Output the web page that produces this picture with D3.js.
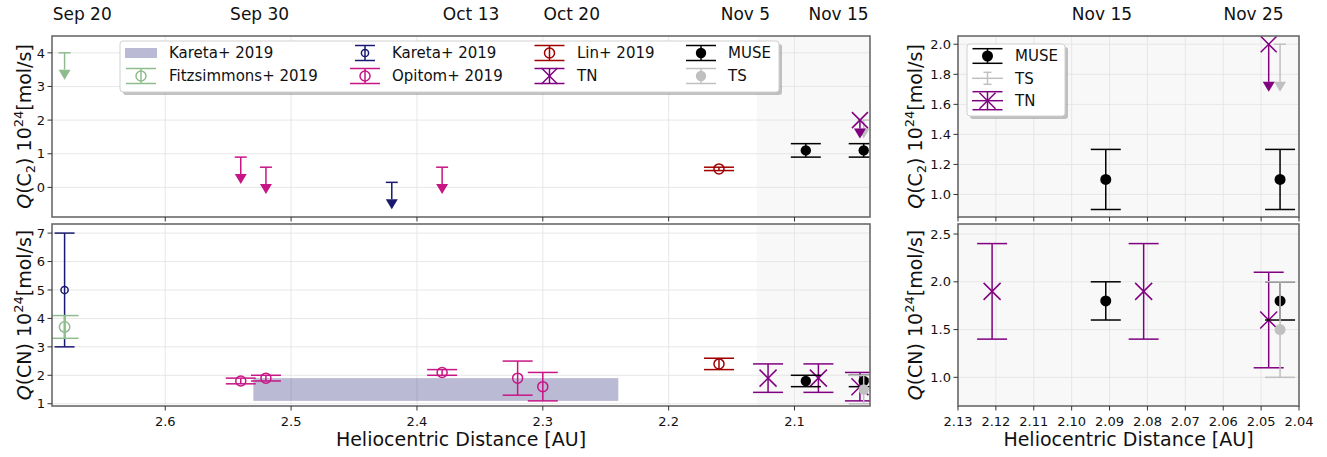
<!DOCTYPE html>
<html>
<head>
<meta charset="utf-8">
<script src="https://cdn.jsdelivr.net/npm/d3@7"></script>
<style>
  body { margin: 0; background: #fff; }
  text { font-family: "DejaVu Sans", sans-serif; fill: #111; }
</style>
</head>
<body>
<svg id="chart" width="1327" height="457"></svg>
<script>
"use strict";

// upper limits: [au, limit, arrow length]
const fitzC2 = [[2.68, 4.0, 0.5]];
const karetaC2 = [[2.42, 0.15, 0.5]];
const opitomC2 = [[2.54, 0.9, 0.5], [2.52, 0.6, 0.5], [2.38, 0.6, 0.5]];
const tnC2 = [[2.048, 2.0, 0.25]];
const tsC2 = [[2.045, 2.0, 0.25]];
// measurements: [au, value, error]
const linC2 = [[2.16, 0.55, 0.05]];
const museC2 = [[2.091, 1.1, 0.2], [2.045, 1.1, 0.2]];

// Kareta+ 2019 CN range: [au from, au to, q low, q high]
const karetaBand = [2.53, 2.24, 1.1, 1.9];
const fitzCN = [[2.68, 3.7, 0.4]];
const karetaCN = [[2.68, 5.0, 2.0]];
const opitomCN = [[2.54, 1.8, 0.1], [2.52, 1.9, 0.1], [2.38, 2.1, 0.1], [2.32, 1.9, 0.6], [2.30, 1.6, 0.5]];
const linCN = [[2.16, 2.4, 0.2]];
const tnCN = [[2.121, 1.9, 0.5], [2.081, 1.9, 0.5], [2.048, 1.6, 0.5]];
const museCN = [[2.091, 1.8, 0.2], [2.045, 1.8, 0.2]];
const tsCN = [[2.045, 1.5, 0.5]];

// date labels on top, placed at heliocentric distance
const datesLeft = [["Sep 20", 2.666], ["Sep 30", 2.525], ["Oct 13", 2.357], ["Oct 20", 2.277], ["Nov 5", 2.139], ["Nov 15", 2.065]];
const datesRight = [["Nov 15", 2.092], ["Nov 25", 2.052]];

const ticksLeftX = [2.6, 2.5, 2.4, 2.3, 2.2, 2.1];
const ticksRightX = [2.13, 2.12, 2.11, 2.10, 2.09, 2.08, 2.07, 2.06, 2.05, 2.04];
const ticksC2 = [0, 1, 2, 3, 4];
const ticksCN = [1, 2, 3, 4, 5, 6, 7];
const ticksC2zoom = [1.0, 1.2, 1.4, 1.6, 1.8, 2.0];
const ticksCNzoom = [1.0, 1.5, 2.0, 2.5];

const colors = {
  fitz: "#8fbc8f", kareta: "#191970", opitom: "#c71585", lin: "#a00000",
  tn: "#800080", muse: "#000000", ts: "#c0c0c0"
};

const svg = d3.select("#chart");
const rows = {top: [217, 36], bot: [406, 224]};
const xLeft = d3.scaleLinear().domain([2.69, 2.04]).range([52, 870]);
const xRight = d3.scaleLinear().domain([2.13, 2.04]).range([958, 1299]);

function makePanel(id, x, yDomain, row, xticks, yticks, xfmt, yfmt, shadeFrom, showX){
  const y = d3.scaleLinear().domain(yDomain).range(row);
  const [x0, x1] = x.range(), [y1, y0] = row;
  const g = svg.append("g").attr("id", id);

  g.append("rect").attr("x", x0).attr("y", y0).attr("width", x1 - x0).attr("height", y1 - y0).attr("fill", "#fff");
  g.append("rect").attr("x", x(shadeFrom)).attr("y", y0).attr("width", x1 - x(shadeFrom)).attr("height", y1 - y0)
    .attr("fill", "#f8f8f8");

  g.append("g").selectAll("line").data(xticks).join("line")
    .attr("x1", d => x(d)).attr("x2", d => x(d)).attr("y1", y0).attr("y2", y1)
    .attr("stroke", "#e4e4e4").attr("stroke-width", 0.9);
  g.append("g").selectAll("line").data(yticks).join("line")
    .attr("x1", x0).attr("x2", x1).attr("y1", d => y(d)).attr("y2", d => y(d))
    .attr("stroke", "#e4e4e4").attr("stroke-width", 0.9);

  svg.append("clipPath").attr("id", "clip-" + id).append("rect")
    .attr("x", x0).attr("y", y0).attr("width", x1 - x0).attr("height", y1 - y0);
  const marks = g.append("g").attr("clip-path", `url(#clip-${id})`);

  // frame + ticks drawn after marks
  const frame = svg.append("g").attr("class", "frame");
  frame.append("rect").attr("x", x0).attr("y", y0).attr("width", x1 - x0).attr("height", y1 - y0)
    .attr("fill", "none").attr("stroke", "#6a6a6a").attr("stroke-width", 1.6);
  frame.append("g").selectAll("line").data(xticks).join("line")
    .attr("x1", d => x(d)).attr("x2", d => x(d)).attr("y1", y1).attr("y2", y1 + 4.5)
    .attr("stroke", "#333").attr("stroke-width", 1);
  frame.append("g").selectAll("line").data(yticks).join("line")
    .attr("x1", x0 - 4.5).attr("x2", x0).attr("y1", d => y(d)).attr("y2", d => y(d))
    .attr("stroke", "#333").attr("stroke-width", 1);
  frame.append("g").selectAll("text").data(yticks).join("text")
    .attr("x", x0 - 7).attr("y", d => y(d)).attr("dy", "0.36em").attr("text-anchor", "end")
    .attr("font-size", 13).text(yfmt);
  if (showX){
    frame.append("g").selectAll("text").data(xticks).join("text")
      .attr("x", d => x(d)).attr("y", y1 + 20).attr("text-anchor", "middle")
      .attr("font-size", 13).text(xfmt);
  }
  return {x, y, marks, frame};
}

function errorBars(p, data, color, cap, marker, size){
  const g = p.marks.append("g").attr("stroke", color).attr("stroke-width", 1.5);
  g.selectAll("line.v").data(data).join("line").attr("class", "v")
    .attr("x1", d => p.x(d[0])).attr("x2", d => p.x(d[0]))
    .attr("y1", d => p.y(d[1] - d[2])).attr("y2", d => p.y(d[1] + d[2]));
  g.selectAll("line.lo").data(data).join("line").attr("class", "lo")
    .attr("x1", d => p.x(d[0]) - cap).attr("x2", d => p.x(d[0]) + cap)
    .attr("y1", d => p.y(d[1] - d[2])).attr("y2", d => p.y(d[1] - d[2]));
  g.selectAll("line.hi").data(data).join("line").attr("class", "hi")
    .attr("x1", d => p.x(d[0]) - cap).attr("x2", d => p.x(d[0]) + cap)
    .attr("y1", d => p.y(d[1] + d[2])).attr("y2", d => p.y(d[1] + d[2]));
  data.forEach(d => drawMarker(g, marker, p.x(d[0]), p.y(d[1]), color, size));
}

function upperLimits(p, data, color, marker, size){
  const g = p.marks.append("g").attr("stroke", color).attr("stroke-width", 1.5);
  g.selectAll("line.v").data(data).join("line").attr("class", "v")
    .attr("x1", d => p.x(d[0])).attr("x2", d => p.x(d[0]))
    .attr("y1", d => p.y(d[1])).attr("y2", d => p.y(d[1] - d[2]));
  g.selectAll("path").data(data).join("path")
    .attr("d", d => {
      const cx = p.x(d[0]), b = p.y(d[1] - d[2]);
      return `M${cx - 6},${b}L${cx + 6},${b}L${cx},${b + 10}Z`;
    })
    .attr("fill", color).attr("stroke", "none");
  data.forEach(d => {
    if (marker === "cap"){
      g.append("line").attr("x1", p.x(d[0]) - 6).attr("x2", p.x(d[0]) + 6)
        .attr("y1", p.y(d[1])).attr("y2", p.y(d[1]));
    } else drawMarker(g, marker, p.x(d[0]), p.y(d[1]), color, size);
  });
}

function drawMarker(g, type, cx, cy, color, size){
  if (type === "open"){
    g.append("circle").attr("cx", cx).attr("cy", cy).attr("r", size)
      .attr("fill", "none").attr("stroke", color).attr("stroke-width", 1.5);
  } else if (type === "dot"){
    g.append("circle").attr("cx", cx).attr("cy", cy).attr("r", size)
      .attr("fill", color).attr("stroke", "none");
  } else if (type === "x"){
    g.append("path").attr("d", `M${cx - size},${cy - size}L${cx + size},${cy + size}M${cx - size},${cy + size}L${cx + size},${cy - size}`)
      .attr("stroke", color).attr("stroke-width", 1.5).attr("fill", "none");
  }
}

function yLabel(x, yc, species){
  const t = svg.append("text").attr("transform", `translate(${x},${yc}) rotate(-90)`)
    .attr("text-anchor", "middle").attr("font-size", 19);
  t.append("tspan").attr("font-style", "italic").text("Q");
  t.append("tspan").text("(" + species[0]);
  if (species[1]){
    t.append("tspan").attr("font-size", 13).attr("dy", 4).text(species[1]);
    t.append("tspan").attr("dy", -4).text(")\u00a010");
  } else {
    t.append("tspan").text(")\u00a010");
  }
  t.append("tspan").attr("font-size", 13).attr("dy", -8).text("24");
  t.append("tspan").attr("dy", 8).text("[mol/s]");
}

const f1 = d3.format(".1f"), f2 = d3.format(".2f"), fd = d3.format("d");

// ---- panels ----
const pC2 = makePanel("c2", xLeft, [-0.88, 4.5], rows.top, ticksLeftX, ticksC2, f1, fd, 2.13, false);
const pCN = makePanel("cn", xLeft, [0.92, 7.32], rows.bot, ticksLeftX, ticksCN, f1, fd, 2.13, true);
const pC2z = makePanel("c2z", xRight, [0.85, 2.055], rows.top, ticksRightX, ticksC2zoom, f2, f1, 2.13, false);
const pCNz = makePanel("cnz", xRight, [0.70, 2.605], rows.bot, ticksRightX, ticksCNzoom, f2, f1, 2.13, true);

// C2, left
upperLimits(pC2, fitzC2, colors.fitz, "cap");
upperLimits(pC2, opitomC2, colors.opitom, "cap");
upperLimits(pC2, karetaC2, colors.kareta, "cap");
errorBars(pC2, linC2, colors.lin, 15, "open", 5);
upperLimits(pC2, tsC2, colors.ts, "cap");
upperLimits(pC2, tnC2, colors.tn, "x", 8);
errorBars(pC2, museC2, colors.muse, 15, "dot", 5.2);

// CN, left
pCN.marks.append("rect")
  .attr("x", xLeft(karetaBand[0])).attr("width", xLeft(karetaBand[1]) - xLeft(karetaBand[0]))
  .attr("y", pCN.y(karetaBand[3])).attr("height", pCN.y(karetaBand[2]) - pCN.y(karetaBand[3]))
  .attr("fill", colors.kareta).attr("fill-opacity", 0.3);
errorBars(pCN, karetaCN, colors.kareta, 10, "open", 3.6);
errorBars(pCN, fitzCN, colors.fitz, 14, "open", 5.2);
errorBars(pCN, opitomCN, colors.opitom, 15, "open", 5);
errorBars(pCN, linCN, colors.lin, 15, "open", 5);
errorBars(pCN, tnCN, colors.tn, 15, "x", 8.5);
errorBars(pCN, museCN, colors.muse, 15, "dot", 5.2);
errorBars(pCN, tsCN, colors.ts, 15, "dot", 5.2);

// zoomed panels
upperLimits(pC2z, tsC2, colors.ts, "cap");
upperLimits(pC2z, tnC2, colors.tn, "x", 8);
errorBars(pC2z, museC2, colors.muse, 15, "dot", 5.5);

errorBars(pCNz, tnCN, colors.tn, 15, "x", 8.5);
errorBars(pCNz, museCN, colors.muse, 15, "dot", 5.5);
errorBars(pCNz, tsCN, colors.ts, 15, "dot", 5.5);

// ---- date labels ----
svg.append("g").selectAll("text").data(datesLeft).join("text")
  .attr("x", d => xLeft(d[1])).attr("y", 20).attr("text-anchor", "middle").attr("font-size", 17).text(d => d[0]);
svg.append("g").selectAll("text").data(datesRight).join("text")
  .attr("x", d => xRight(d[1])).attr("y", 20).attr("text-anchor", "middle").attr("font-size", 17).text(d => d[0]);

// ---- axis labels ----
yLabel(31, 126.5, ["C", "2"]);
yLabel(31, 315, ["CN"]);
yLabel(922, 126.5, ["C", "2"]);
yLabel(922, 315, ["CN"]);
svg.append("text").attr("x", 461).attr("y", 446).attr("text-anchor", "middle").attr("font-size", 19)
  .text("Heliocentric Distance [AU]");
svg.append("text").attr("x", 1128.5).attr("y", 446).attr("text-anchor", "middle").attr("font-size", 19)
  .text("Heliocentric Distance [AU]");

// ---- legends ----
function legendBox(x, y, w, h){
  const g = svg.append("g");
  g.append("rect").attr("x", x + 3).attr("y", y + 3).attr("width", w).attr("height", h).attr("rx", 3)
    .attr("fill", "#9a9a9a").attr("opacity", 0.6);
  g.append("rect").attr("x", x).attr("y", y).attr("width", w).attr("height", h).attr("rx", 3)
    .attr("fill", "#fff").attr("stroke", "#d0d0d0").attr("stroke-width", 1);
  return g;
}

function handle(g, item, x0, x1, cy){
  const cx = (x0 + x1) / 2, c = item.color;
  if (item.kind === "band"){
    g.append("rect").attr("x", x0).attr("y", cy - 5).attr("width", x1 - x0).attr("height", 10)
      .attr("fill", c).attr("fill-opacity", 0.3);
    return;
  }
  const h = item.half || 7.5, cap = item.cap || 15;
  const lg = g.append("g").attr("stroke", c).attr("stroke-width", 1.5);
  if (item.line) lg.append("line").attr("x1", x0).attr("x2", x1).attr("y1", cy).attr("y2", cy);
  lg.append("line").attr("x1", cx).attr("x2", cx).attr("y1", cy - h).attr("y2", cy + h);
  [cy - h, cy + h].forEach(yy => lg.append("line").attr("x1", cx - cap).attr("x2", cx + cap).attr("y1", yy).attr("y2", yy));
  drawMarker(lg, item.marker, cx, cy, c, item.size);
}

const legendLeft = [
  {label: "Kareta+ 2019", kind: "band", color: colors.kareta},
  {label: "Fitzsimmons+ 2019", color: colors.fitz, marker: "open", size: 5},
  {label: "Kareta+ 2019", color: colors.kareta, marker: "open", size: 3.6, cap: 10},
  {label: "Opitom+ 2019", color: colors.opitom, marker: "open", size: 5},
  {label: "Lin+ 2019", color: colors.lin, marker: "open", size: 5},
  {label: "TN", color: colors.tn, marker: "x", size: 8},
  {label: "MUSE", color: colors.muse, marker: "dot", size: 5.2},
  {label: "TS", color: colors.ts, marker: "dot", size: 5.2}
];
const legendLeftCols = [[125, 157, 169], [350, 380, 392], [534, 565, 577], [686, 716, 728]];
const legendLeftRows = [53, 76];

const lgL = legendBox(120, 41, 659, 51);
legendLeft.forEach((item, i) => {
  const col = legendLeftCols[Math.floor(i / 2)], cy = legendLeftRows[i % 2];
  handle(lgL, item, col[0], col[1], cy);
  lgL.append("text").attr("x", col[2]).attr("y", cy).attr("dy", "0.36em").attr("font-size", 15).text(item.label);
});

const legendRight = [
  {label: "MUSE", color: colors.muse, marker: "dot", size: 5.5, half: 7.3},
  {label: "TS", color: colors.ts, marker: "none", line: true, half: 6, cap: 4},
  {label: "TN", color: colors.tn, marker: "x", size: 8, line: true, half: 9}
];
const legendRightRows = [56, 78.3, 100.7];
const lgR = legendBox(967, 44, 98, 72);
legendRight.forEach((item, i) => {
  handle(lgR, item, 972, 1003, legendRightRows[i]);
  lgR.append("text").attr("x", 1015).attr("y", legendRightRows[i]).attr("dy", "0.36em").attr("font-size", 15).text(item.label);
});
</script>
</body>
</html>
